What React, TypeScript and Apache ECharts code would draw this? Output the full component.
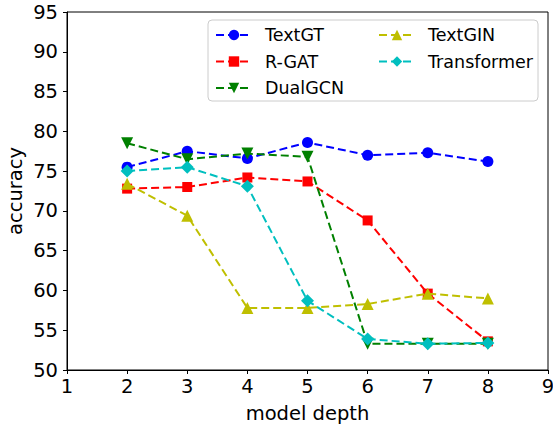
import React, { useEffect, useRef } from "react";
import * as echarts from "echarts";

const depths = [2, 3, 4, 5, 6, 7, 8];
const textGT = [75.5, 77.5, 76.6, 78.6, 77.0, 77.3, 76.2];
const rGAT = [72.8, 73.0, 74.2, 73.7, 68.8, 59.6, 53.6];
const dualGCN = [78.5, 76.5, 77.2, 76.8, 53.3, 53.3, 53.3];
const textGIN = [73.4, 69.4, 57.8, 57.8, 58.3, 59.6, 59.0];
const transformer = [75.0, 75.5, 73.1, 58.7, 53.9, 53.3, 53.4];

const seriesNames = ["TextGT", "R-GAT", "DualGCN", "TextGIN", "Transformer"];
const seriesValues = [textGT, rGAT, dualGCN, textGIN, transformer];
const colors = ["#0000ff", "#ff0000", "#008000", "#bfbf00", "#00bfbf"];
const symbols = ["circle", "rect", "triangle", "triangle", "diamond"];
const rotations = [0, 0, 180, 0, 0];
const sizes = [11, 10, 12, 12, 13];

const FONT = "DejaVu Sans";

export default function App() {
  const ref = useRef<HTMLDivElement>(null);
  useEffect(() => {
    document.body.style.margin = "0";
    const chart = echarts.init(ref.current!, null, { renderer: "svg" });
    const series = seriesNames.map((name, i) => ({
      name,
      type: "line",
      data: depths.map((d, j) => [d, seriesValues[i][j]]),
      symbol: symbols[i],
      symbolSize: sizes[i],
      symbolRotate: rotations[i],
      showAllSymbol: true,
      itemStyle: { color: colors[i] },
      lineStyle: { color: colors[i], width: 2, type: [8, 4] },
      z: 2 + i,
    }));
    const legendCommon = {
      orient: "vertical",
      top: 26,
      itemGap: 8.5,
      itemWidth: 36,
      itemHeight: 13,
      textStyle: { fontFamily: FONT, fontSize: 17.5, color: "#000", padding: [0, 0, 0, 8] },
      padding: 0,
    };
    chart.setOption({
      animation: false,
      backgroundColor: "#fff",
      grid: {
        left: 67,
        right: 5,
        top: 12,
        bottom: 57,
        show: true,
        borderColor: "#000",
        borderWidth: 1,
        backgroundColor: "transparent",
        containLabel: false,
        outerBoundsMode: "none",
      },
      xAxis: {
        type: "value",
        min: 1,
        max: 9,
        interval: 1,
        name: "model depth",
        nameLocation: "middle",
        nameGap: 33,
        nameMoveOverlap: false,
        nameTextStyle: { fontFamily: FONT, fontSize: 19.5, color: "#000" },
        axisLine: { show: true, lineStyle: { color: "#000", width: 1 } },
        axisTick: { show: true, length: 4, inside: false, lineStyle: { color: "#000" } },
        axisLabel: { fontFamily: FONT, fontSize: 19.5, color: "#000", margin: 6 },
        splitLine: { show: false },
      },
      yAxis: {
        type: "value",
        min: 50,
        max: 95,
        interval: 5,
        name: "accuracy",
        nameLocation: "middle",
        nameGap: 42,
        nameRotate: 90,
        nameMoveOverlap: false,
        nameTextStyle: { fontFamily: FONT, fontSize: 19.5, color: "#000" },
        axisLine: { show: true, lineStyle: { color: "#000", width: 1 } },
        axisTick: { show: true, length: 4, inside: false, lineStyle: { color: "#000" } },
        axisLabel: { fontFamily: FONT, fontSize: 19.5, color: "#000", margin: 9 },
        splitLine: { show: false },
      },
      legend: [
        { ...legendCommon, left: 215, data: seriesNames.slice(0, 3) },
        { ...legendCommon, left: 378, data: seriesNames.slice(3) },
      ],
      graphic: [
        {
          type: "rect",
          shape: { x: 208, y: 20, width: 330, height: 81, r: 4 },
          style: { fill: "rgba(255,255,255,0.8)", stroke: "#cccccc", lineWidth: 1 },
          z: 0,
          zlevel: 0,
        },
      ],
      series,
    });
    return () => chart.dispose();
  }, []);
  return <div ref={ref} style={{ width: 553, height: 427 }} />;
}
